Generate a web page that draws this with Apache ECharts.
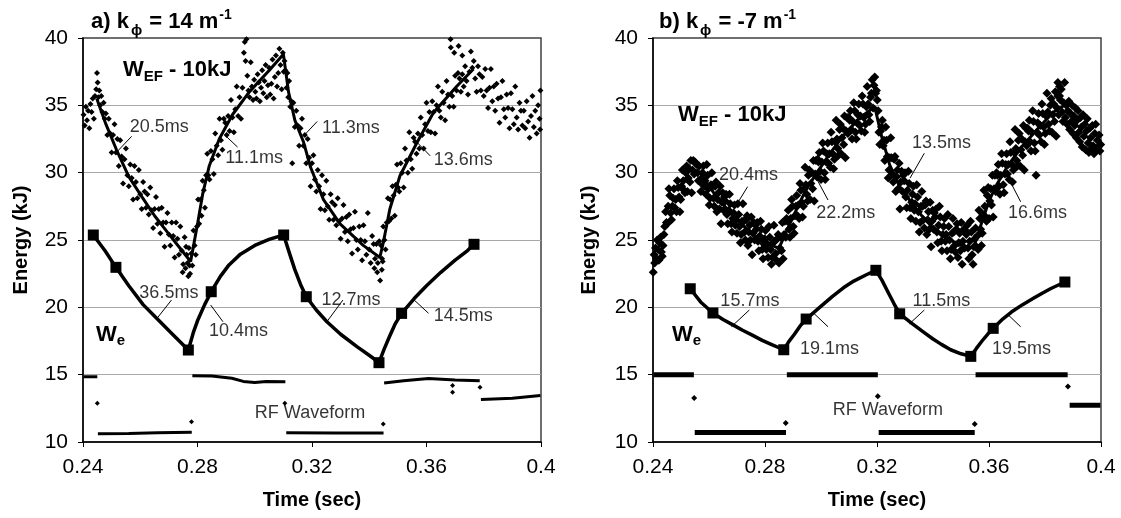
<!DOCTYPE html>
<html><head><meta charset="utf-8">
<script src="https://cdn.jsdelivr.net/npm/echarts@6/dist/echarts.min.js"></script>
<style>html,body{margin:0;padding:0;background:#fff}#c{width:1121px;height:518px}</style>
</head><body><div id="c"></div>
<script>
// ---------- axes ----------
const timeTicks = [0.24, 0.28, 0.32, 0.36, 0.4];
const energyTicks = [10, 15, 20, 25, 30, 35, 40];

// ---------- panel a) k_phi = 14 m^-1 ----------
const aWefPoints = [
[.2402,34.3],[.2406,33.5],[.2410,34.9],[.2414,33.9],[.2418,34.6],[.2422,33.3],[.2426,35.1],[.2430,34.5],[.2434,35.5],[.2438,34.0],[.2442,35.7],
[.2446,36.2],[.2449,37.4],[.2451,36.7],[.2454,35.6],[.2457,36.1],[.2460,35.0],[.2464,35.7],[.2468,34.5],[.2472,35.2],[.2476,34.0],
[.2480,34.4],[.2485,32.8],[.2490,34.0],[.2495,32.9],[.2500,31.5],[.2505,32.8],[.2510,33.6],[.2515,31.5],[.2520,32.5],[.2525,30.5],[.2530,32.4],[.2535,31.2],[.2540,29.2],[.2545,31.0],[.2550,31.8],[.2555,29.8],[.2560,29.0],[.2565,30.6],[.2570,29.6],[.2575,28.0],[.2580,30.5],[.2585,29.3],[.2590,28.1],[.2595,30.2],[.2600,28.4],[.2605,27.3],[.2610,29.3],[.2615,28.6],[.2620,27.4],[.2625,28.4],[.2630,26.9],[.2635,28.9],[.2640,27.2],[.2645,25.9],[.2650,27.3],[.2655,28.2],[.2660,26.2],[.2665,27.3],[.2670,25.5],[.2675,27.4],[.2680,26.3],[.2685,24.5],[.2690,26.3],[.2695,27.0],[.2700,25.4],[.2705,24.6],[.2710,26.3],[.2715,25.3],[.2720,23.7],[.2725,26.3],[.2730,25.1],[.2735,23.9],[.2740,26.0],[.2745,24.2],[.2750,23.2],[.2755,25.2],[.2760,24.5],[.2765,23.3],[.2770,24.4],[.2774,22.5],[.2748,22.6],[.2758,22.9],[.2768,22.3],[.2772,23.1],[.2762,23.9],
[.2778,24.0],[.2782,23.1],[.2786,25.7],[.2790,24.6],[.2794,23.9],[.2798,26.0],[.2802,28.0],[.2806,26.2],[.2810,28.0],[.2814,26.8],[.2818,29.4],[.2822,28.7],[.2826,27.4],[.2830,29.8],[.2834,31.4],[.2838,29.8],[.2842,29.5],[.2847,31.6],[.2852,31.0],[.2857,29.9],[.2862,32.9],[.2867,32.0],[.2872,31.3],[.2877,34.0],[.2882,32.4],[.2887,31.7],[.2892,34.0],[.2897,33.7],[.2902,32.8],[.2907,34.2],[.2912,33.1],[.2917,35.4],[.2922,34.1],[.2927,33.0],[.2932,34.7],[.2937,36.4],[.2942,34.2],[.2947,35.6],[.2952,34.0],[.2957,36.3],
[.2962,38.9],[.2965,39.7],[.2968,38.3],[.2971,39.9],[.2974,37.2],[.2978,36.1],[.2982,35.6],[.2986,38.2],[.2990,36.4],[.2994,35.4],[.2998,36.9],[.3002,36.0],[.3006,35.5],[.3010,37.3],[.3014,36.7],[.3018,35.3],[.3022,36.3],[.3026,37.6],[.3030,35.9],[.3034,36.8],[.3038,38.0],[.3042,35.6],[.3046,36.5],[.3050,37.8],[.3054,35.8],[.3058,36.6],[.3062,38.4],[.3066,35.5],[.3070,37.1],[.3074,38.7],[.3078,36.4],[.3082,37.4],[.3086,39.2],[.3090,38.0],[.3094,36.2],[.3098,38.9],[.3101,37.5],[.3104,38.3],
[.3107,37.6],[.3111,36.3],[.3114,37.4],[.3117,35.6],[.3120,36.8],[.3124,34.9],[.3128,35.3],[.3131,30.7],[.3135,35.2],[.3140,33.4],[.3145,34.6],[.3150,33.5],[.3155,32.0],[.3160,33.3],[.3165,34.0],[.3170,32.0],[.3175,32.8],[.3180,30.7],[.3185,32.5],[.3190,31.1],[.3195,29.0],[.3200,30.7],[.3205,31.3],[.3210,29.5],[.3215,28.6],[.3220,30.2],[.3225,29.0],[.3230,27.3],[.3235,29.8],[.3240,28.4],[.3245,27.2],[.3250,29.4],[.3255,27.5],[.3260,26.5],[.3265,28.4],[.3270,27.8],[.3275,26.5],[.3280,27.6],[.3285,26.1],[.3290,28.1],[.3295,26.4],[.3300,25.1],[.3305,26.6],[.3310,27.6],[.3315,25.6],[.3320,26.7],[.3325,24.9],[.3330,26.9],[.3335,25.8],[.3340,24.0],[.3345,25.9],[.3350,27.1],[.3355,25.0],[.3360,24.3],[.3365,26.0],[.3370,25.0],[.3375,23.5],[.3380,26.1],[.3385,24.9],[.3390,23.9],[.3395,27.0],[.3400,24.3],[.3405,23.3],[.3410,25.3],[.3415,24.7],[.3420,23.6],[.3425,24.7],[.3430,23.3],[.3435,24.9],[.3428,22.6],[.3438,22.0],[.3444,22.8],[.3418,22.9],[.3447,23.4],
[.3441,24.6],[.3445,23.6],[.3449,26.0],[.3453,25.0],[.3457,24.3],[.3461,26.3],[.3465,28.1],[.3469,26.4],[.3473,28.0],[.3477,26.6],[.3481,29.0],[.3485,28.3],[.3489,26.8],[.3493,29.1],[.3497,30.6],[.3501,28.9],[.3505,28.6],
[.3510,30.7],[.3515,30.0],[.3520,28.9],[.3525,31.8],[.3530,30.9],[.3535,30.0],[.3540,33.0],[.3545,31.0],[.3550,30.3],[.3555,32.6],[.3560,32.3],[.3565,31.4],[.3570,32.9],[.3575,31.8],[.3580,34.1],[.3585,32.8],[.3590,31.8],[.3595,33.6],[.3600,35.2],[.3605,33.1],[.3610,34.5],[.3615,33.0],[.3620,35.3],[.3625,34.5],[.3630,32.9],[.3635,35.0],[.3640,36.4],[.3645,34.6],[.3650,34.1],[.3655,36.0],[.3660,35.2],[.3665,33.9],[.3670,36.8],[.3675,35.8],[.3680,34.9],[.3685,39.3],[.3690,35.7],[.3695,34.9],[.3700,37.2],[.3705,36.1],[.3710,37.4],[.3715,37.0],[.3720,36.0],[.3725,37.3],[.3730,36.4],[.3735,37.9],[.3740,36.8],[.3745,35.8],[.3750,37.5],[.3755,39.0],[.3760,37.8],[.3765,38.3],[.3684,39.9],[.3697,38.9],[.3712,39.4],[.3725,38.7],
[.3770,37.0],[.3775,36.0],[.3780,37.9],[.3785,37.3],[.3790,36.1],[.3795,37.1],[.3800,35.7],[.3805,37.7],[.3810,36.1],[.3815,34.8],[.3820,36.3],[.3825,37.7],[.3830,35.3],[.3835,36.4],[.3840,34.6],[.3845,36.6],[.3850,35.5],[.3855,33.7],[.3860,35.6],[.3865,36.8],[.3870,34.7],[.3875,34.1],[.3880,35.8],[.3885,34.8],[.3890,33.3],[.3895,35.9],[.3900,34.7],[.3905,33.6],[.3910,36.4],[.3915,34.1],[.3920,33.2],[.3925,35.2],[.3930,34.6],[.3935,33.5],[.3940,34.6],[.3945,33.3],[.3950,35.3],[.3955,33.8],[.3960,32.6],[.3965,34.2],[.3970,35.7],[.3975,33.4],[.3980,34.6],[.3985,32.9],[.3990,35.0],[.3995,34.0],[.3998,36.1],[.3997,33.2]
];
const aWefFit = [[.2448,35.5],[.2480,33.6],[.2517,31.7],[.2560,29.7],[.2606,28.2],[.2650,26.8],[.2694,25.6],[.2735,24.5],[.2776,23.4],[.2801,26.3],[.2818,28.4],[.2841,30.5],[.2876,32.5],[.2922,34.3],[.2981,36.0],[.3051,37.6],[.3100,38.8],[.3118,36.0],[.3140,33.9],[.3170,32.3],[.3195,30.4],[.3240,28.0],[.3298,26.2],[.3379,24.6],[.3437,23.7],[.3449,24.8],[.3472,27.3],[.3507,29.75],[.3566,32.2],[.3624,34.45],[.3705,36.4],[.3764,37.7]];
const aWeCurve = [[.2436,25.37],[.2477,24.2],[.2515,22.97],[.2560,21.6],[.2610,20.2],[.2659,19.15],[.2710,18.05],[.2768,16.83],[.2785,18.1],[.2800,19.0],[.2825,20.2],[.2848,21.16],[.2880,22.3],[.2910,23.15],[.2950,23.95],[.3000,24.6],[.3050,25.05],[.3101,25.37],[.3120,24.1],[.3140,22.8],[.3160,21.7],[.3180,20.79],[.3215,19.8],[.3252,18.93],[.3300,18.0],[.3357,17.08],[.3407,16.33],[.3434,15.89],[.3452,16.9],[.3470,17.8],[.3490,18.75],[.3513,19.55],[.3557,20.65],[.3600,21.6],[.3650,22.6],[.3700,23.5],[.3740,24.15],[.3766,24.68]];
const aWeMarks = [[.2436,25.37],[.2515,22.97],[.2768,16.83],[.2848,21.16],[.3101,25.37],[.3180,20.79],[.3434,15.89],[.3513,19.55],[.3766,24.68]];
const aRfSegments = [
  [[.2402,14.85],[.2450,14.85]],
  [[.2452,10.62],[.2560,10.63],[.2660,10.68],[.2780,10.72]],
  [[.2782,14.92],[.2850,14.9],[.2920,14.73],[.2960,14.5],[.3000,14.42],[.3040,14.5],[.3107,14.47]],
  [[.3110,10.68],[.3280,10.67],[.3450,10.66]],
  [[.3452,14.38],[.3520,14.55],[.3607,14.72],[.3700,14.6],[.3786,14.55]],
  [[.3790,13.15],[.3900,13.25],[.3998,13.45]]
];
const aRfDots = [[.2450,12.87],[.2779,11.51],[.3105,12.87],[.3449,11.34],[.3691,14.2],[.3691,13.7],[.3787,14.06]];
const aTauText = ['20.5ms','11.1ms','11.3ms','13.6ms','36.5ms','10.4ms','12.7ms','14.5ms','RF Waveform'];
const aTauPos = [[.2666,33.39],[.2998,31.05],[.3336,33.32],[.3728,30.94],[.2700,21.03],[.2943,18.21],[.3336,20.54],[.3728,19.32],[.3193,12.15]];
const aLeaders = [
  [[.2570,32.7],[.2521,31.6]],[[.2895,32.8],[.2940,31.9]],[[.3218,33.8],[.3174,32.8]],[[.3567,32.25],[.3613,31.25]],
  [[.2709,20.54],[.2659,19.19]],[[.2846,20.17],[.2889,18.93]],[[.3308,20.54],[.3252,18.93]],[[.3607,19.56],[.3557,20.54]]
];

// ---------- panel b) k_phi = -7 m^-1 ----------
const bWefPoints = [
[.2401,22.6],[.2404,23.9],[.2406,23.3],[.2409,24.4],[.2412,23.6],[.2415,25.0],[.2418,24.3],[.2421,23.5],[.2424,24.8],[.2427,25.2],[.2430,24.1],[.2433,23.8],[.2436,24.6],[.2439,25.4],
[.2442,26.0],[.2445,27.1],[.2448,26.3],[.2451,26.2],[.2454,27.5],[.2457,28.8],[.2460,28.3],[.2463,27.0],[.2466,26.5],[.2469,27.5],[.2472,28.1],[.2475,28.8],[.2478,27.4],[.2481,28.0],[.2484,27.1],[.2487,29.4],[.2490,28.9],[.2493,28.2],[.2496,27.1],[.2499,28.0],[.2502,29.0],[.2505,30.2],[.2508,29.4],[.2511,28.7],[.2514,28.5],[.2517,30.0],[.2520,30.5],[.2523,28.6],[.2526,29.6],[.2529,30.3],[.2532,29.3],[.2535,30.9],[.2538,28.5],[.2541,30.2],[.2544,30.9],[.2547,29.9],[.2550,30.8],[.2553,30.7],[.2556,30.6],[.2559,30.0],[.2562,29.4],[.2565,30.5],
[.2568,29.3],[.2571,28.6],[.2574,29.6],[.2577,30.0],[.2580,30.5],[.2583,29.0],[.2586,29.4],[.2589,28.4],[.2592,30.6],[.2595,29.8],[.2598,28.8],[.2601,27.6],[.2604,28.1],[.2607,29.1],[.2610,30.0],[.2613,29.0],[.2616,28.1],[.2619,27.5],[.2622,29.0],[.2625,29.3],[.2628,27.1],[.2631,28.0],[.2634,28.5],[.2637,27.3],[.2640,29.0],[.2643,26.2],[.2646,27.8],[.2649,28.5],[.2652,27.2],[.2655,28.2],[.2658,27.9],[.2661,28.4],[.2664,26.9],[.2667,26.2],[.2670,27.2],[.2673,28.4],[.2676,27.7],
[.2679,26.2],[.2682,25.6],[.2685,26.6],[.2688,27.0],[.2691,27.6],[.2694,26.1],[.2697,26.5],[.2700,25.5],[.2703,27.7],[.2706,26.9],[.2709,26.0],[.2712,24.8],[.2715,25.4],[.2718,26.4],[.2721,27.7],[.2724,26.4],[.2727,25.6],[.2730,25.0],[.2733,26.5],[.2736,26.8],[.2739,24.6],[.2742,25.6],[.2745,26.1],[.2748,25.0],[.2751,26.7],[.2754,23.9],[.2757,25.5],[.2760,26.3],[.2763,25.0],[.2766,26.1],[.2769,25.8],[.2772,26.3],[.2775,24.9],[.2778,24.2],[.2781,25.3],[.2784,26.4],[.2787,25.8],
[.2790,24.3],[.2793,23.6],[.2796,24.7],[.2799,25.1],[.2802,25.7],[.2805,24.3],[.2808,24.7],[.2811,23.7],[.2814,26.0],[.2817,25.2],[.2820,24.3],[.2823,23.2],[.2826,23.7],[.2829,24.8],[.2832,26.1],[.2835,24.9],[.2838,24.0],[.2841,23.5],[.2844,25.1],[.2847,25.4],[.2850,23.3],[.2853,24.4],[.2856,25.2],
[.2859,24.2],[.2862,26.3],[.2865,23.6],[.2868,25.4],[.2871,26.4],[.2874,25.2],[.2877,26.6],[.2880,26.4],[.2883,27.2],[.2886,25.8],[.2889,25.2],[.2892,26.6],[.2895,28.0],[.2898,27.5],[.2901,26.0],[.2904,25.5],[.2907,26.8],[.2910,27.5],[.2913,28.3],[.2916,26.8],[.2919,27.6],[.2922,26.6],[.2925,29.2],[.2928,28.7],[.2931,27.8],[.2934,26.7],[.2937,27.5],[.2940,28.8],[.2943,30.4],[.2946,29.1],[.2949,28.4],[.2952,27.9],[.2955,29.8],[.2958,30.2],[.2961,28.0],[.2964,29.2],[.2967,30.0],[.2970,28.8],[.2973,30.9],[.2976,27.9],[.2979,29.9],[.2982,30.9],[.2985,29.7],[.2988,31.0],[.2991,30.8],[.2994,31.5],[.2997,30.1],[.3000,29.5],[.3003,30.8],[.3006,32.2],[.3009,31.6],[.3012,30.0],[.3015,29.5],[.3018,30.8],[.3021,31.4],[.3024,32.2],[.3027,30.7],[.3030,31.4],[.3033,30.4],[.3036,33.0],[.3039,32.3],[.3042,31.4],[.3045,30.3],[.3048,31.0],[.3051,32.3],[.3054,33.9],[.3057,32.5],[.3060,31.8],[.3063,31.3],[.3066,33.2],[.3069,33.6],[.3072,31.4],[.3075,32.6],[.3078,33.3],[.3081,32.1],[.3084,34.2],[.3087,31.1],[.3090,33.1],[.3093,34.1],[.3096,32.9],[.3099,34.1],[.3102,33.9],[.3105,34.6],[.3108,33.2],[.3111,32.5],[.3114,33.8],[.3117,35.2],[.3120,34.6],[.3123,33.0],[.3126,32.5],[.3129,33.7],[.3132,34.3],[.3135,35.1],[.3138,33.5],[.3141,34.2],[.3144,33.1],[.3147,35.7],[.3150,35.1],[.3153,34.1],[.3156,33.0],[.3159,33.6],[.3162,34.9],[.3165,36.4],[.3168,35.1],[.3171,34.3],[.3174,33.8],[.3177,35.6],[.3180,35.9],[.3183,36.9],[.3186,34.8],[.3189,36.5],[.3192,37.1],[.3195,35.9],[.3198,36.1],[.3201,35.4],[.3204,34.6],
[.3207,33.0],[.3210,32.1],[.3213,33.1],[.3216,33.4],[.3219,33.9],[.3222,32.0],[.3225,32.4],[.3228,30.9],[.3231,33.4],[.3234,32.4],[.3237,31.2],[.3240,29.6],[.3243,30.2],[.3246,31.1],[.3249,32.6],[.3252,31.1],[.3255,29.9],[.3258,29.3],[.3261,31.0],[.3264,31.2],[.3267,28.6],[.3270,29.7],[.3273,30.2],[.3276,28.8],[.3279,30.7],[.3282,27.3],[.3285,29.3],[.3288,30.1],[.3291,28.6],[.3294,29.8],[.3297,29.4],[.3300,30.0],[.3303,28.2],[.3306,27.4],[.3309,28.7],[.3312,30.1],[.3315,29.2],[.3318,27.4],[.3321,26.6],[.3324,27.8],[.3327,28.4],[.3330,29.0],[.3333,27.2],[.3336,27.7],[.3339,26.4],[.3342,29.1],[.3345,28.2],[.3348,27.1],[.3351,25.6],[.3354,26.3],[.3357,27.5],[.3360,28.6],[.3363,27.5],[.3366,26.5],[.3369,25.9],[.3372,27.6],[.3375,27.9],[.3378,25.4],[.3381,26.5],[.3384,27.1],[.3387,25.8],[.3390,27.8],[.3393,24.5],[.3396,26.4],[.3399,27.2],[.3402,25.8],[.3405,27.0],[.3408,26.7],[.3411,27.3],[.3414,25.6],[.3417,24.8],[.3420,26.1],[.3423,27.5],[.3426,26.7],[.3429,24.9],[.3432,24.2],[.3435,25.4],[.3438,26.0],[.3441,26.6],[.3444,24.9],[.3447,25.4],[.3450,24.2],[.3453,26.9],[.3456,26.0],[.3459,25.0],[.3462,23.6],[.3465,24.3],[.3468,25.5],[.3471,26.6],[.3474,25.6],[.3477,24.6],[.3480,24.1],[.3483,25.8],[.3486,26.2],[.3489,23.7],[.3492,24.8],[.3495,25.5],[.3498,24.2],[.3501,26.3],[.3504,23.2],[.3507,24.9],[.3510,25.8],[.3513,24.4],[.3516,25.7],[.3519,25.4],[.3522,26.1],[.3525,24.4],[.3528,23.6],[.3531,24.9],[.3534,26.4],[.3537,25.6],[.3540,23.9],[.3543,23.2],[.3546,24.5],[.3549,25.1],[.3552,25.9],[.3555,24.5],
[.3558,25.3],[.3561,24.3],[.3564,27.2],[.3567,26.6],[.3570,25.8],[.3573,24.6],[.3576,25.5],[.3579,26.9],[.3582,28.7],[.3585,27.5],[.3588,26.7],[.3591,26.4],[.3594,28.3],[.3597,28.9],[.3600,26.6],[.3603,27.9],[.3606,28.8],[.3609,27.6],[.3612,29.8],[.3615,26.7],[.3618,28.8],[.3621,29.8],[.3624,28.6],[.3627,30.0],[.3630,29.8],[.3633,30.6],[.3636,29.0],[.3639,28.4],[.3642,29.8],[.3645,31.4],[.3648,30.7],[.3651,29.1],[.3654,28.5],[.3657,29.9],[.3660,30.6],[.3663,31.4],[.3666,29.9],[.3669,30.6],[.3672,29.5],[.3675,32.3],[.3678,31.5],[.3681,30.6],[.3684,29.3],[.3687,30.2],[.3690,31.5],[.3693,33.2],[.3696,31.8],[.3699,30.9],[.3702,30.5],[.3705,32.4],[.3708,32.9],[.3711,30.5],[.3714,31.7],[.3717,32.5],[.3720,31.3],[.3723,33.5],[.3726,30.2],[.3729,32.3],[.3732,33.3],[.3735,32.0],[.3738,33.3],[.3741,33.1],[.3744,33.9],[.3747,32.3],[.3750,31.6],[.3753,33.0],[.3756,34.6],[.3759,33.8],[.3762,32.2],[.3765,31.6],[.3768,29.8],[.3771,33.0],[.3774,33.7],[.3777,34.4],[.3780,32.8],[.3783,33.5],[.3786,32.3],[.3789,35.1],[.3792,34.4],[.3795,33.4],[.3798,32.1],[.3801,32.9],[.3804,34.2],[.3807,35.9],[.3810,34.5],[.3813,33.6],[.3816,33.1],[.3819,35.0],[.3822,35.5],[.3825,33.0],[.3828,34.3],[.3831,35.1],[.3834,33.8],[.3837,36.0],[.3840,32.7],[.3843,34.8],[.3846,35.7],[.3849,34.3],[.3852,35.7],[.3855,35.4],[.3858,36.2],[.3861,34.5],[.3864,33.8],[.3867,35.2],[.3870,36.7],[.3846,36.7],[.3852,36.4],
[.3873,34.1],[.3876,35.0],[.3879,33.6],[.3882,34.6],[.3885,35.3],[.3888,33.2],[.3891,34.4],[.3894,33.8],[.3897,35.0],[.3900,32.9],[.3903,34.2],[.3906,33.5],[.3909,34.8],[.3912,32.6],[.3915,33.9],[.3918,34.6],[.3921,33.0],[.3924,32.3],[.3927,34.1],[.3930,33.4],[.3933,31.9],[.3936,34.3],[.3939,32.7],[.3942,33.6],[.3945,31.7],[.3948,33.1],[.3951,34.0],[.3954,32.2],[.3957,31.5],[.3960,33.3],[.3963,32.6],[.3966,31.8],[.3969,33.5],[.3972,32.0],[.3975,31.4],[.3978,32.9],[.3981,33.6],[.3984,31.7],[.3987,32.4],[.3990,31.9],[.3993,32.8],[.3996,31.6],[.3999,32.1]
];
const bWefFit = [[.2568,30.0],[.2620,28.4],[.2681,26.9],[.2720,26.1],[.2764,25.3],[.2810,24.7],[.2850,24.4],[.2895,26.5],[.2943,28.6],[.2979,29.8],[.3038,31.6],[.3086,32.9],[.3140,34.1],[.3192,34.9],[.3215,32.8],[.3245,30.6],[.3280,29.0],[.3318,27.9],[.3360,26.8],[.3400,25.9],[.3450,25.1],[.3500,24.6],[.3545,24.4],[.3574,26.3],[.3600,27.9],[.3630,29.2],[.3670,30.6],[.3720,32.0],[.3780,33.4],[.3831,34.5],[.3870,35.0]];
const bWeCurve = [[.2533,21.38],[.2570,20.4],[.2614,19.58],[.2650,19.1],[.2687,18.68],[.2720,18.3],[.2758,17.9],[.2790,17.55],[.2822,17.25],[.2867,16.85],[.2885,17.45],[.2905,18.0],[.2925,18.6],[.2947,19.13],[.2990,19.9],[.3040,20.8],[.3080,21.45],[.3117,21.95],[.3160,22.4],[.3196,22.75],[.3218,22.0],[.3240,21.1],[.3260,20.3],[.3281,19.52],[.3328,18.75],[.3370,18.1],[.3400,17.65],[.3430,17.25],[.3463,16.85],[.3500,16.55],[.3535,16.36],[.3555,16.95],[.3575,17.5],[.3595,18.0],[.3615,18.44],[.3650,19.15],[.3680,19.65],[.3720,20.2],[.3757,20.65],[.3790,21.05],[.3821,21.4],[.3871,21.88]];
const bWeMarks = [[.2533,21.38],[.2614,19.58],[.2867,16.85],[.2947,19.13],[.3196,22.75],[.3281,19.52],[.3535,16.36],[.3615,18.44],[.3871,21.88]];
const bRfSegments = [
  [[.2402,15.0],[.2546,15.0]],
  [[.2549,10.7],[.2875,10.7]],
  [[.2878,15.0],[.3203,15.0]],
  [[.3206,10.7],[.3549,10.7]],
  [[.3552,15.0],[.3881,15.0]],
  [[.3888,12.72],[.3998,12.72]]
];
const bRfDots = [[.2547,13.27],[.2874,11.41],[.3203,13.39],[.3549,11.34],[.3882,14.13]];
const bTauText = ['20.4ms','22.2ms','13.5ms','16.6ms','15.7ms','19.1ms','11.5ms','19.5ms','RF Waveform'];
const bTauPos = [[.2741,29.83],[.3088,26.97],[.3430,32.17],[.3773,26.97],[.2746,20.47],[.3030,16.94],[.3430,20.47],[.3716,16.94],[.3239,12.41]];
const bLeaders = [
  [[.2738,28.96],[.2680,27.0]],[[.3025,27.97],[.2983,29.6]],[[.3369,31.44],[.3318,29.6]],[[.3713,27.84],[.3662,29.9]],
  [[.2744,19.80],[.2680,18.56]],[[.3025,18.56],[.2974,19.56]],[[.3369,19.80],[.3315,18.76]],[[.3713,18.56],[.3669,19.43]]
];

// ---------- build ----------
const FONT = '"Liberation Sans", Arial, Helvetica, sans-serif';
const panels = [
  {wef:aWefPoints, fit:aWefFit, we:aWeCurve, marks:aWeMarks, rf:aRfSegments, rfDots:aRfDots, txt:aTauText, pos:aTauPos, leaders:aLeaders, dot:6, rfW:3, rfDot:5},
  {wef:bWefPoints, fit:bWefFit, we:bWeCurve, marks:bWeMarks, rf:bRfSegments, rfDots:bRfDots, txt:bTauText, pos:bTauPos, leaders:bLeaders, dot:9, rfW:5, rfDot:6}
];
const black = {color:'#000', opacity:1};
const series = [];
panels.forEach((d, i) => {
  const ax = {xAxisIndex:i, yAxisIndex:i, silent:true, animation:false};
  series.push(Object.assign({type:'scatter', data:d.wef, symbol:'diamond', symbolSize:d.dot, itemStyle:black, z:2}, ax));
  d.rf.forEach(seg => series.push(Object.assign({type:'line', data:seg, symbol:'none', lineStyle:{color:'#000', width:d.rfW, opacity:1}, z:3}, ax)));
  series.push(Object.assign({type:'scatter', data:d.rfDots, symbol:'diamond', symbolSize:d.rfDot, itemStyle:black, z:3}, ax));
  series.push(Object.assign({type:'line', data:d.fit, symbol:'none', lineStyle:{color:'#000', width:3, opacity:1}, z:4}, ax));
  series.push(Object.assign({type:'line', data:d.we, symbol:'none', smooth:false, lineStyle:{color:'#000', width:3.5, opacity:1, join:'round'}, z:5}, ax));
  series.push(Object.assign({type:'scatter', data:d.marks, symbol:'rect', symbolSize:11, itemStyle:black, z:6}, ax));
  d.leaders.forEach(l => series.push(Object.assign({type:'line', data:l, symbol:'none', lineStyle:{color:'#000', width:1, opacity:1}, z:5}, ax)));
  series.push(Object.assign({type:'scatter', data:d.txt.map((s, k) => ({name:s, value:d.pos[k]})), symbolSize:1,
    itemStyle:{color:'rgba(0,0,0,0)'}, label:{show:true, position:'inside', formatter:'{b}', fontSize:18, color:'#000', fontFamily:FONT}, z:7}, ax));
});

const grids = [{left:83, top:38, width:458, height:404}, {left:653, top:38, width:448, height:404}].map(g =>
  Object.assign({show:true, borderColor:'#404040', borderWidth:1.5, backgroundColor:'rgba(0,0,0,0)'}, g));
const xAxes = [0, 1].map(i => ({
  type:'value', gridIndex:i, min:timeTicks[0], max:timeTicks[timeTicks.length - 1], interval:timeTicks[1] - timeTicks[0],
  axisLine:{show:true, onZero:false, lineStyle:{color:'#000', width:1.5}},
  axisTick:{show:true, length:5, lineStyle:{color:'#000'}},
  splitLine:{show:false},
  axisLabel:{fontSize:21, color:'#000', margin:15, fontFamily:FONT, formatter:v => String(+v.toFixed(2))},
  name:'Time (sec)', nameLocation:'middle', nameGap:48,
  nameTextStyle:{fontSize:20, fontWeight:'bold', color:'#000', fontFamily:FONT}
}));
const yAxes = [0, 1].map(i => ({
  type:'value', gridIndex:i, min:energyTicks[0], max:energyTicks[energyTicks.length - 1], interval:energyTicks[1] - energyTicks[0],
  axisLine:{show:true, onZero:false, lineStyle:{color:'#000', width:1.5}},
  axisTick:{show:true, length:5, lineStyle:{color:'#000'}},
  splitLine:{show:true, showMinLine:false, showMaxLine:false, lineStyle:{color:'#a8a8a8', width:1}},
  axisLabel:{fontSize:21, color:'#000', margin:15, fontFamily:FONT},
  name:'Energy (kJ)', nameLocation:'middle', nameGap: i === 0 ? 52 : 54,
  nameTextStyle:{fontSize:20, fontWeight:'bold', color:'#000', fontFamily:FONT}
}));

// text pieces with sub/superscripts (pixel layout)
const mctx = document.createElement('canvas').getContext('2d');
function chain(x0, base, pieces) {
  let x = x0; const out = [];
  pieces.forEach(p => {
    const font = 'bold ' + p.size + 'px "Liberation Sans", Arial, sans-serif';
    mctx.font = font;
    const b = base + (p.dy || 0);
    out.push({type:'text', x:x + (p.dx || 0), y:b - 0.3465 * p.size, z:100,
      style:{text:p.t, font:font, fill:'#000', verticalAlign:'middle', textVerticalAlign:'middle'}});
    x += (p.dx || 0) + mctx.measureText(p.t).width;
  });
  return out;
}
const graphics = [].concat(
  chain(91, 30, [{t:'a) k', size:22}, {t:'ϕ', size:15, dy:6, dx:2}, {t:' = 14 m', size:22, dx:1}, {t:'-1', size:14, dy:-10, dx:1}]),
  chain(659, 30, [{t:'b) k', size:22}, {t:'ϕ', size:15, dy:6, dx:2}, {t:' = -7 m', size:22, dx:1}, {t:'-1', size:14, dy:-10, dx:1}]),
  chain(123, 78, [{t:'W', size:22}, {t:'EF', size:15, dy:4}, {t:' - 10kJ', size:22}]),
  chain(678, 123, [{t:'W', size:22}, {t:'EF', size:15, dy:4}, {t:' - 10kJ', size:22}]),
  chain(96, 343, [{t:'W', size:22}, {t:'e', size:15, dy:3}]),
  chain(672, 343, [{t:'W', size:22}, {t:'e', size:15, dy:3}])
);

const chart = echarts.init(document.getElementById('c'), null, {renderer:'canvas'});
chart.setOption({
  animation:false, backgroundColor:'#fff',
  textStyle:{fontFamily:FONT},
  grid:grids, xAxis:xAxes, yAxis:yAxes, series:series, graphic:graphics
});
</script></body></html>
